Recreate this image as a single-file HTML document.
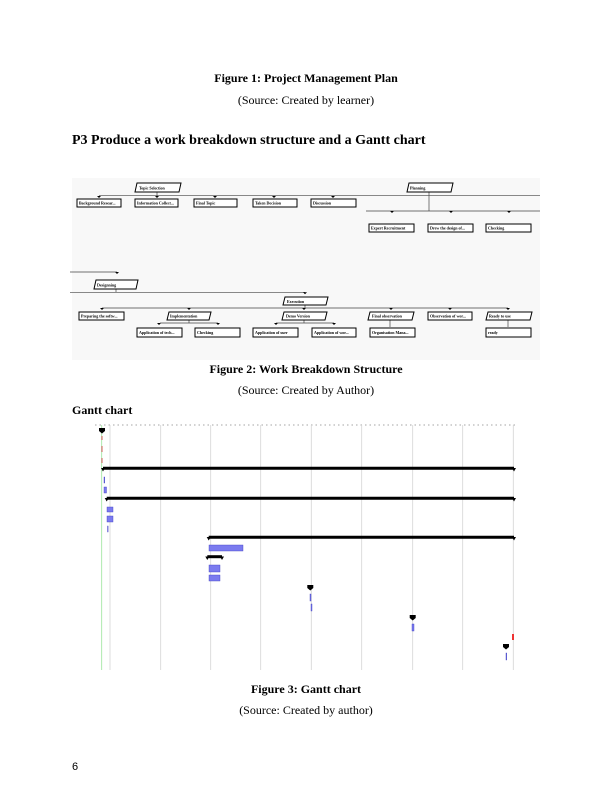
<!DOCTYPE html>
<html><head><meta charset="utf-8"><style>
body{margin:0;width:612px;height:792px;background:#fff;position:relative;font-family:"Liberation Serif",serif;color:#000}
.t{position:absolute;left:0;width:612px;text-align:center;font-size:12px;white-space:nowrap}
.b{font-weight:bold}
svg{position:absolute;left:0;top:0}
svg text{font-family:"Liberation Serif",serif;font-size:4px;font-weight:bold}
</style></head><body>
<div class="t b" style="top:71px">Figure 1: Project Management Plan</div>
<div class="t" style="top:93px">(Source: Created by learner)</div>
<div class="b" style="position:absolute;left:72px;top:133px;font-size:14px">P3 Produce a work breakdown structure and a Gantt chart</div>
<div class="t b" style="top:362px">Figure 2: Work Breakdown Structure</div>
<div class="t" style="top:383px">(Source: Created by Author)</div>
<div class="b" style="position:absolute;left:72px;top:403px;font-size:12px">Gantt chart</div>
<div class="t b" style="top:682px">Figure 3: Gantt chart</div>
<div class="t" style="top:703px">(Source: Created by author)</div>
<div style="position:absolute;left:72px;top:761px;font-size:11px;font-family:'Liberation Sans',sans-serif">6</div>
<svg width="612" height="792">
<rect x="72" y="178" width="468" height="182" fill="#f8f8f8"/>
<g stroke="#444" stroke-width="0.7" fill="none">
<line x1="99" y1="195.7" x2="540" y2="195.7"/>
<line x1="366" y1="211" x2="540" y2="211"/>
<line x1="70" y1="272" x2="117" y2="272"/>
<line x1="70" y1="292.3" x2="305" y2="292.3"/>
<line x1="102" y1="308" x2="508" y2="308"/>
<line x1="160" y1="323" x2="218" y2="323"/>
<line x1="276" y1="323" x2="334" y2="323"/>
<line x1="157" y1="192" x2="157" y2="196"/><line x1="429" y1="192" x2="429" y2="211"/>
<line x1="116" y1="289" x2="116" y2="292"/><line x1="305" y1="305" x2="305" y2="308"/>
<line x1="189" y1="320" x2="189" y2="323"/><line x1="304" y1="320" x2="304" y2="323"/>
<line x1="390" y1="320" x2="390" y2="327"/><line x1="508" y1="320" x2="508" y2="327"/>
</g>
<g fill="#000">
<path d="M97 196l2 2 2-2z"/><path d="M155 196l2 2 2-2z"/><path d="M213 196l2 2 2-2z"/><path d="M272 196l2 2 2-2z"/><path d="M331 196l2 2 2-2z"/>
<path d="M390 211l2 2 2-2z"/><path d="M449 211l2 2 2-2z"/><path d="M507 211l2 2 2-2z"/>
<path d="M115 272l2 2 2-2z"/><path d="M303 292.3l2 2 2-2z"/>
<path d="M100 308l2 2 2-2z"/><path d="M187 308l2 2 2-2z"/><path d="M302 308l2 2 2-2z"/><path d="M389 308l2 2 2-2z"/><path d="M448 308l2 2 2-2z"/><path d="M506 308l2 2 2-2z"/>
<path d="M157 323l2 2 2-2z"/><path d="M216 323l2 2 2-2z"/><path d="M274 323l2 2 2-2z"/><path d="M332 323l2 2 2-2z"/>
</g>
<g stroke="#000" stroke-width="1" fill="#fff">
<path d="M137 183h44l-2 9h-44z"/><path d="M409 183h44l-2 9h-44z"/><path d="M96 280h42l-2 9h-42z"/><path d="M285 297h43l-2 8h-43z"/>
<path d="M169 312h42l-2 8h-42z"/><path d="M284 312h43l-2 8h-43z"/><path d="M370 312h44l-2 8h-44z"/><path d="M488 312h44l-2 8h-44z"/>
<rect x="77" y="199" width="44" height="8"/><rect x="135" y="199" width="43" height="8"/><rect x="194" y="199" width="43" height="8"/><rect x="253" y="199" width="44" height="8"/><rect x="311" y="199" width="45" height="8"/>
<rect x="369" y="224" width="45" height="8"/><rect x="428" y="224" width="45" height="8"/><rect x="486" y="224" width="45" height="8"/>
<rect x="79" y="312" width="45" height="8"/><rect x="428" y="312" width="44" height="8"/>
<rect x="137" y="328" width="45" height="9"/><rect x="195" y="328" width="45" height="9"/><rect x="253" y="328" width="45" height="9"/><rect x="312" y="328" width="44" height="9"/><rect x="370" y="328" width="45" height="9"/><rect x="486" y="328" width="45" height="9"/>
</g>
<g>
<text x="139" y="189.5">Topic Selection</text><text x="410" y="189.5">Planning</text><text x="97" y="286.5">Designning</text><text x="287" y="303">Execution</text>
<text x="79" y="204.5">Background Resear...</text><text x="137" y="204.5">Information Collect...</text><text x="196" y="204.5">Final Topic</text><text x="255" y="204.5">Taken Decision</text><text x="313" y="204.5">Discussion</text>
<text x="371" y="229.5">Expert Recruitment</text><text x="430" y="229.5">Drew the design of...</text><text x="488" y="229.5">Checking</text>
<text x="81" y="317.5">Preparing the softw...</text><text x="170" y="317.5">Implementation</text><text x="286" y="317.5">Demo Version</text><text x="372" y="317.5">Final observation</text><text x="430" y="317.5">Observation of wor...</text><text x="489" y="317.5">Ready to use</text>
<text x="139" y="334">Application of tech...</text><text x="197" y="334">Checking</text><text x="255" y="334">Application of user</text><text x="314" y="334">Application of wor...</text><text x="372" y="334">Organisation Mana...</text><text x="488" y="334">ready</text>
</g>
<line x1="95" y1="425" x2="517" y2="425" stroke="#888" stroke-width="0.8" stroke-dasharray="1.5 3"/>
<g stroke="#d4d4d4" stroke-width="0.8">
<line x1="110" y1="425" x2="110" y2="670"/><line x1="160.7" y1="425" x2="160.7" y2="670"/><line x1="210.7" y1="425" x2="210.7" y2="670"/><line x1="260.7" y1="425" x2="260.7" y2="670"/><line x1="311.3" y1="425" x2="311.3" y2="670"/><line x1="361.7" y1="425" x2="361.7" y2="670"/><line x1="412.7" y1="425" x2="412.7" y2="670"/><line x1="462.7" y1="425" x2="462.7" y2="670"/><line x1="513.3" y1="425" x2="513.3" y2="670"/>
</g>
<line x1="101.7" y1="425" x2="101.7" y2="670" stroke="#9be39b" stroke-width="0.8"/>
<g stroke="#000" stroke-width="3">
<line x1="103" y1="468.3" x2="514" y2="468.3"/><line x1="106.7" y1="498.3" x2="514" y2="498.3"/><line x1="208.7" y1="537.3" x2="514" y2="537.3"/><line x1="207.3" y1="556.7" x2="222" y2="556.7"/>
</g>
<g fill="#000">
<path d="M99 428h6v3l-3 2.5-3-2.5z"/>
<path d="M101 468h4l-2 3.5z"/><path d="M512 468h4l-2 3.5z"/><path d="M104.7 498h4l-2 3.5z"/><path d="M512 498h4l-2 3.5z"/><path d="M206.7 537h4l-2 3.5z"/><path d="M512 537h4l-2 3.5z"/>
<path d="M205.3 556.5h4l-2 3.5z"/><path d="M220 556.5h4l-2 3.5z"/>
<path d="M307.3 585h6v3l-3 2.5-3-2.5z"/><path d="M409.7 615h6v3l-3 2.5-3-2.5z"/><path d="M503 644h6v3l-3 2.5-3-2.5z"/>
</g>
<g stroke="#c33" stroke-width="0.8"><line x1="102" y1="436" x2="102" y2="440"/><line x1="102" y1="446" x2="102" y2="452"/><line x1="102" y1="458" x2="102" y2="463"/></g>
<g fill="#7b7bef" stroke="#4040c0" stroke-width="0.4">
<rect x="104" y="477" width="0.8" height="6"/><rect x="104" y="487" width="2.5" height="6"/>
<rect x="107" y="507" width="6" height="5"/><rect x="107" y="516" width="6" height="6"/><rect x="107.5" y="526" width="0.6" height="6"/>
<rect x="209" y="545" width="34" height="6"/><rect x="209" y="565" width="11" height="7"/><rect x="209" y="575" width="11" height="6"/>
<rect x="310" y="594" width="1" height="7"/><rect x="311" y="604" width="1" height="7"/><rect x="412" y="624" width="2" height="7"/><rect x="506" y="653" width="0.8" height="7"/>
</g>
<rect x="512" y="634" width="2" height="6" fill="#e33"/>
</svg>
</body></html>
